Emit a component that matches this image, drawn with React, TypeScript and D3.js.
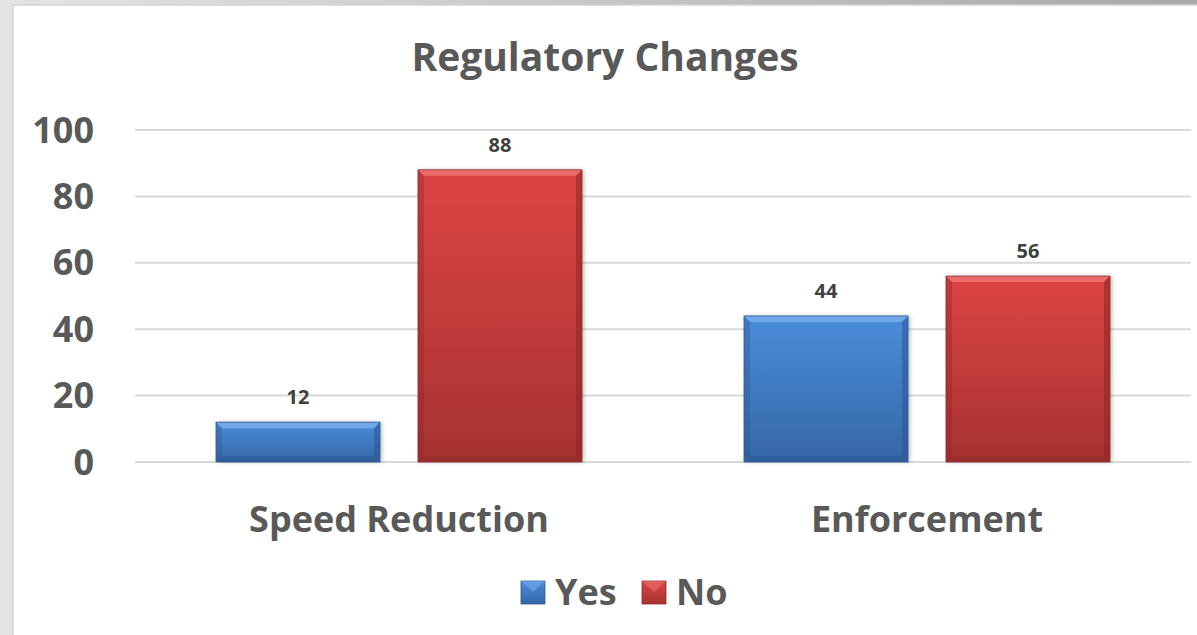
import React from "react";
import * as d3 from "d3";

const categories = ["Speed Reduction", "Enforcement"];
const seriesNames = ["Yes", "No"];
const yesValues = [12, 44];
const noValues = [88, 56];
const yTicks = [0, 20, 40, 60, 80, 100];

const W = 1197;
const H = 635;
const FONT = "'Open Sans', 'Liberation Sans', sans-serif";
const TXT = "#595959";

const colors: Record<string, { top: string; bot: string; light: string; dark: string; edge: string }> = {
  Yes: { top: "#4b8ddb", bot: "#3566a6", light: "#7fb2ee", dark: "#2b5590", edge: "#2d5a96" },
  No: { top: "#dd4444", bot: "#a73232", light: "#f07a7a", dark: "#8a2626", edge: "#8f2a2a" },
};

export default function App() {
  const left = 135;
  const right = 1191;
  const y = d3.scaleLinear().domain([0, 100]).range([462, 130]);
  const x0 = d3.scaleBand<string>().domain(categories).range([left, right]).paddingInner(0.3068).paddingOuter(0.1534);
  const x1 = d3.scaleBand<string>().domain(seriesNames).range([0, x0.bandwidth()]).paddingInner(0.188).paddingOuter(0);

  const data = categories.map((c, i) => ({ cat: c, vals: [{ s: "Yes", v: yesValues[i] }, { s: "No", v: noValues[i] }] }));

  const bevel = 6;

  return (
    <svg width={W} height={H} style={{ position: "absolute", left: 0, top: 0 }} fontFamily={FONT}>
      <defs>
        <linearGradient id="bg" x1="0" y1="0" x2="1" y2="0">
          <stop offset="0" stopColor="#e4e4e4" />
          <stop offset="1" stopColor="#a8a8a8" />
        </linearGradient>
        {seriesNames.map((s) => (
          <linearGradient key={s} id={`g-${s}`} x1="0" y1="0" x2="0" y2="1">
            <stop offset="0" stopColor={colors[s].top} />
            <stop offset="1" stopColor={colors[s].bot} />
          </linearGradient>
        ))}
        <filter id="shadow" x="-10%" y="-10%" width="130%" height="130%">
          <feDropShadow dx="2" dy="0" stdDeviation="2" floodColor="#000" floodOpacity="0.25" />
        </filter>
      </defs>
      <rect x={0} y={0} width={W} height={H} fill="url(#bg)" />
      <rect x={13} y={5} width={W} height={H} fill="#ffffff" stroke="#d4d4d4" strokeWidth={1.5} />

      <text x={605} y={71} textAnchor="middle" fontSize={39} fontWeight={700} fill={TXT}>
        Regulatory Changes
      </text>

      {yTicks.map((t) => (
        <g key={t}>
          <line x1={left} x2={right} y1={y(t)} y2={y(t)} stroke="#d9d9d9" strokeWidth={2} />
          <text x={94} y={y(t)} dy="0.35em" textAnchor="end" fontSize={36} fontWeight={700} fill={TXT}>
            {t}
          </text>
        </g>
      ))}

      {data.map((d) => (
        <g key={d.cat} transform={`translate(${x0(d.cat)},0)`}>
          {d.vals.map((b) => {
            const bx = x1(b.s)!;
            const bw = x1.bandwidth();
            const by = y(b.v);
            const bh = y(0) - by;
            const c = colors[b.s];
            const bv = Math.min(bevel, bh / 2);
            return (
              <g key={b.s}>
                <rect x={bx} y={by} width={bw} height={bh} fill={`url(#g-${b.s})`} filter="url(#shadow)" />
                <polygon
                  points={`${bx},${by} ${bx + bw},${by} ${bx + bw - bv},${by + bv} ${bx + bv},${by + bv}`}
                  fill={c.light}
                  opacity={0.75}
                />
                <polygon
                  points={`${bx},${by} ${bx + bv},${by + bv} ${bx + bv},${by + bh - bv} ${bx},${by + bh}`}
                  fill={c.dark}
                  opacity={0.35}
                />
                <polygon
                  points={`${bx + bw},${by} ${bx + bw - bv},${by + bv} ${bx + bw - bv},${by + bh - bv} ${bx + bw},${by + bh}`}
                  fill={c.dark}
                  opacity={0.55}
                />
                <polygon
                  points={`${bx},${by + bh} ${bx + bv},${by + bh - bv} ${bx + bw - bv},${by + bh - bv} ${bx + bw},${by + bh}`}
                  fill={c.dark}
                  opacity={0.45}
                />
                <rect x={bx} y={by} width={bw} height={bh} fill="none" stroke={c.edge} strokeWidth={0.8} />
                <text x={bx + bw / 2} y={by - 25} dy="0.35em" textAnchor="middle" fontSize={20} fontWeight={700} fill="#404040">
                  {b.v}
                </text>
              </g>
            );
          })}
          <text x={x0.bandwidth() / 2} y={519} dy="0.35em" textAnchor="middle" fontSize={36} fontWeight={700} fill={TXT}>
            {d.cat}
          </text>
        </g>
      ))}

      {seriesNames.map((s, i) => {
        const lx = i === 0 ? 521 : 642;
        const c = colors[s];
        return (
          <g key={s}>
            <rect x={lx} y={581} width={24} height={23} fill={`url(#g-${s})`} stroke={c.edge} strokeWidth={0.8} />
            <polygon points={`${lx},581 ${lx + 24},581 ${lx + 12},592`} fill={c.light} opacity={0.5} />
            <text x={lx + 34} y={592} dy="0.35em" fontSize={36} fontWeight={700} fill={TXT}>
              {s}
            </text>
          </g>
        );
      })}
    </svg>
  );
}
